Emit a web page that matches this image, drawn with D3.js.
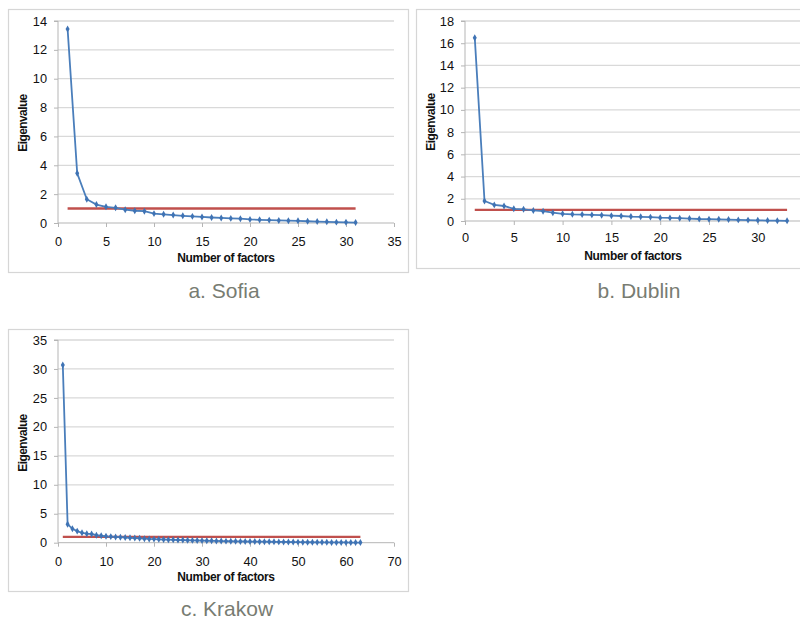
<!DOCTYPE html>
<html>
<head>
<meta charset="utf-8">
<script src="https://cdn.jsdelivr.net/npm/d3@7/dist/d3.min.js"></script>
<style>
  body { margin: 0; background: #fff; }
  svg { display: block; font-family: "Liberation Sans", Arial, Helvetica, sans-serif; }
</style>
</head>
<body>
<svg id="chart" width="800" height="620"></svg>
<script>
// ---- Data ----
const sofiaEigen = [13.45, 3.45, 1.65, 1.28, 1.12, 1.05, 0.92, 0.85, 0.82, 0.65, 0.6, 0.55, 0.5, 0.46, 0.42, 0.38, 0.35, 0.32, 0.3, 0.25, 0.22, 0.2, 0.18, 0.16, 0.15, 0.12, 0.1, 0.08, 0.06, 0.05, 0.03];
const dublinEigen = [16.5, 1.8, 1.45, 1.35, 1.1, 1.05, 0.95, 0.88, 0.75, 0.65, 0.6, 0.58, 0.55, 0.52, 0.48, 0.45, 0.4, 0.38, 0.35, 0.3, 0.28, 0.25, 0.22, 0.18, 0.16, 0.15, 0.13, 0.1, 0.08, 0.06, 0.04, 0.03, 0.02];
const krakowEigen = [30.7, 3.2, 2.4, 2.0, 1.7, 1.55, 1.5, 1.3, 1.2, 1.1, 1.05, 1.0, 0.95, 0.9, 0.85, 0.8, 0.75, 0.7, 0.65, 0.62, 0.58, 0.55, 0.52, 0.5, 0.47, 0.45, 0.42, 0.4, 0.38, 0.36, 0.34, 0.32, 0.3, 0.28, 0.27, 0.25, 0.24, 0.22, 0.21, 0.2, 0.19, 0.18, 0.17, 0.16, 0.15, 0.14, 0.13, 0.12, 0.11, 0.1, 0.09, 0.08, 0.08, 0.07, 0.06, 0.06, 0.05, 0.05, 0.04, 0.04, 0.03, 0.03, 0.02];
const threshold = 1;
const sofiaYTicks = [0, 2, 4, 6, 8, 10, 12, 14];
const dublinYTicks = [0, 2, 4, 6, 8, 10, 12, 14, 16, 18];
const krakowYTicks = [0, 5, 10, 15, 20, 25, 30, 35];
const sofiaXTicks = [0, 5, 10, 15, 20, 25, 30, 35];
const dublinXTicks = [0, 5, 10, 15, 20, 25, 30, 35];
const krakowXTicks = [0, 10, 20, 30, 40, 50, 60, 70];
const captions = ["a. Sofia", "b. Dublin", "c. Krakow"];
const xTitle = "Number of factors";
const yTitle = "Eigenvalue";

// ---- Layout (presentation only) ----
const panels = [
  { data: sofiaEigen, yTicks: sofiaYTicks, xTicks: sofiaXTicks, xMax: 35, yMax: 14, caption: captions[0],
    box: [8, 9, 400, 263], x0: 58, x1: 394, y0: 223, y1: 21, xlab: 22, xtitle: 262, ytx: 23, yty: 123, capX: 224, capY: 298 },
  { data: dublinEigen, yTicks: dublinYTicks, xTicks: dublinXTicks, xMax: 35, yMax: 18, caption: captions[1],
    box: [416, 9, 400, 259], x0: 465, x1: 806.6, y0: 221, y1: 21, xlab: 20, xtitle: 260, ytx: 431, yty: 122, capX: 639, capY: 298 },
  { data: krakowEigen, yTicks: krakowYTicks, xTicks: krakowXTicks, xMax: 70, yMax: 35, caption: captions[2],
    box: [8, 329, 400, 262], x0: 58, x1: 394, y0: 542.7, y1: 340, xlab: 22, xtitle: 581, ytx: 23, yty: 443, capX: 227, capY: 616 }
];

const svg = d3.select("#chart");

panels.forEach(p => {
  const g = svg.append("g");
  g.append("rect")
    .attr("x", p.box[0] + 0.5).attr("y", p.box[1] + 0.5)
    .attr("width", p.box[2]).attr("height", p.box[3])
    .attr("fill", "none").attr("stroke", "#d6d6d6").attr("stroke-width", 1.2);

  const x = d3.scaleLinear().domain([0, p.xMax]).range([p.x0, p.x1]);
  const y = d3.scaleLinear().domain([0, p.yMax]).range([p.y0, p.y1]);

  // gridlines
  g.selectAll(".grid").data(p.yTicks.filter(t => t > 0)).join("line")
    .attr("x1", p.x0).attr("x2", p.x1)
    .attr("y1", d => y(d)).attr("y2", d => y(d))
    .attr("stroke", "#d9d9d9").attr("stroke-width", 1.3);

  // y axis
  const yAxis = d3.axisLeft(y).tickValues(p.yTicks).tickSize(4).tickPadding(7).tickFormat(d3.format("d"));
  const ya = g.append("g").attr("transform", `translate(${p.x0},0)`).call(yAxis);
  ya.select(".domain").attr("stroke", "#b5b5b5").attr("d", `M-4,${p.y1}H0V${p.y0}`);
  ya.selectAll(".tick line").attr("stroke", "#b5b5b5");
  ya.selectAll(".tick text").attr("font-size", 12.8).attr("fill", "#111");

  // x axis
  const xAxis = d3.axisBottom(x).tickValues(p.xTicks).tickSize(4).tickPadding(p.xlab - 12).tickFormat(d3.format("d"));
  const xa = g.append("g").attr("transform", `translate(0,${p.y0})`).call(xAxis);
  xa.select(".domain").attr("stroke", "#b5b5b5").attr("d", `M${p.x0},0H${p.x1}`);
  xa.selectAll(".tick line").attr("stroke", "#b5b5b5");
  xa.selectAll(".tick text").attr("font-size", 12.8).attr("fill", "#111");

  // threshold line
  g.append("line")
    .attr("x1", x(1)).attr("x2", x(p.data.length))
    .attr("y1", y(threshold)).attr("y2", y(threshold))
    .attr("stroke", "#c0504d").attr("stroke-width", 2.4);

  // series line
  const pts = p.data.map((v, i) => [i + 1, v]);
  g.append("path").datum(pts)
    .attr("fill", "none").attr("stroke", "#4a7ebb").attr("stroke-width", 1.8)
    .attr("d", d3.line().x(d => x(d[0])).y(d => y(d[1])));
  g.selectAll(".mk").data(pts).join("path")
    .attr("transform", d => `translate(${x(d[0])},${y(d[1])})`)
    .attr("d", d3.symbol().type(d3.symbolDiamond).size(14))
    .attr("fill", "#3f73b4");

  // titles
  g.append("text").attr("x", (p.x0 + Math.min(p.x1, 394 + (p.x0 - 58))) / 2).attr("y", p.xtitle)
    .attr("text-anchor", "middle").attr("font-weight", "bold").attr("font-size", 12)
    .attr("letter-spacing", "-0.35px").attr("fill", "#111").text(xTitle);
  g.append("text").attr("transform", `translate(${p.ytx + 4},${p.yty}) rotate(-90)`)
    .attr("text-anchor", "middle").attr("font-weight", "bold").attr("font-size", 12)
    .attr("letter-spacing", "-0.6px").attr("fill", "#111").text(yTitle);

  // caption
  svg.append("text").attr("x", p.capX).attr("y", p.capY)
    .attr("text-anchor", "middle").attr("font-size", 21).attr("fill", "#787c72")
    .text(p.caption);
});
</script>
</body>
</html>
